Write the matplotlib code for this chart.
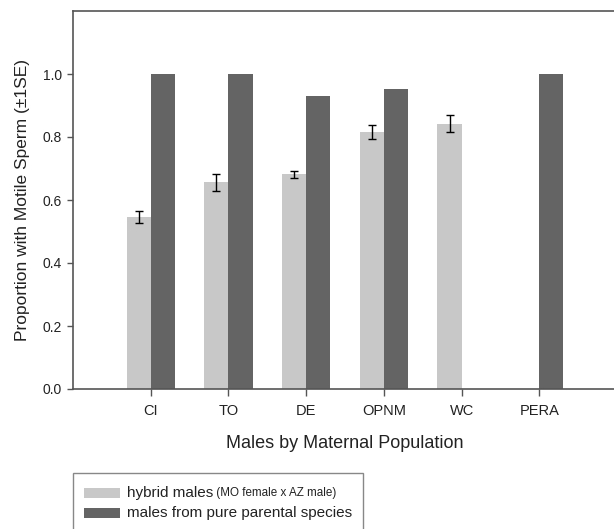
import matplotlib
matplotlib.use("Agg")
import matplotlib.pyplot as plt
from matplotlib.patches import Rectangle
import numpy as np

plt.rcParams['font.family'] = ['Liberation Sans', 'DejaVu Sans']

populations = ["CI", "TO", "DE", "OPNM", "WC", "PERA"]
hybrid = [0.545, 0.657, 0.681, 0.816, 0.842, np.nan]
hybrid_se = [0.019, 0.027, 0.010, 0.022, 0.027, np.nan]
pure = [1.0, 1.0, 0.929, 0.951, np.nan, 1.0]

light = "#c8c8c8"
dark = "#646464"
edge = "#555555"

W, H = 614, 529
fig = plt.figure(figsize=(W / 100, H / 100), dpi=100)
# axes box in pixels: left 73, right 617 (just off the picture), top 11, bottom 389
ax = fig.add_axes([73 / W, 1 - 389 / H, (617 - 73) / W, (389 - 11) / H])

x = np.arange(1, len(populations) + 1)
bw = 0.31
ax.bar(x - bw / 2, hybrid, bw, color=light, zorder=2)
ax.bar(x + bw / 2, pure, bw, color=dark, zorder=2)
ax.errorbar(x - bw / 2, hybrid, yerr=hybrid_se, fmt="none", ecolor="black",
            elinewidth=1, capsize=3, capthick=1, zorder=3)

ax.set_xlim(0, 7)
ax.set_ylim(0, 1.2)
ax.set_yticks([0.0, 0.2, 0.4, 0.6, 0.8, 1.0])
ax.set_yticklabels(["0.0", "0.2", "0.4", "0.6", "0.8", "1.0"])
ax.set_xticks(x)
ax.set_xticklabels(populations)
ax.tick_params(axis="both", colors=edge, labelcolor="#222222", width=1)
ax.tick_params(axis="y", labelsize=10, length=4, pad=4)
ax.tick_params(axis="x", labelsize=10.5, length=5, pad=6)
for s in ax.spines.values():
    s.set_color(edge)
    s.set_linewidth(1.2)
ax.spines["right"].set_visible(False)

ax.set_xlabel("Males by Maternal Population", fontsize=13, color="#222222",
              labelpad=12)
ax.set_ylabel("Proportion with Motile Sperm (±1SE)", fontsize=12.5,
              color="#222222", labelpad=9)

# legend drawn by hand so the subtitle can use a smaller font
fig.patches.append(Rectangle((73 / W, 1 - 531 / H), (363 - 73) / W, (531 - 473) / H,
                             transform=fig.transFigure, facecolor="white",
                             edgecolor="#888888", linewidth=1))
rows = [(493, light, "hybrid males", " (MO female x AZ male)"),
        (513, dark, "males from pure parental species", "")]
fig.canvas.draw()
r = fig.canvas.get_renderer()
for yc, col, main, sub in rows:
    fig.patches.append(Rectangle((84 / W, 1 - (yc + 5) / H), 36 / W, 10 / H,
                                 transform=fig.transFigure, facecolor=col,
                                 edgecolor="none"))
    t = fig.text(127 / W, 1 - yc / H, main, fontsize=11, color="#222222",
                 va="center", ha="left")
    if sub:
        bb = t.get_window_extent(renderer=r)
        fig.text(bb.x1 / W, 1 - yc / H, sub, fontsize=8.4, color="#222222",
                 va="center", ha="left")

fig.savefig("out.png", dpi=100)
